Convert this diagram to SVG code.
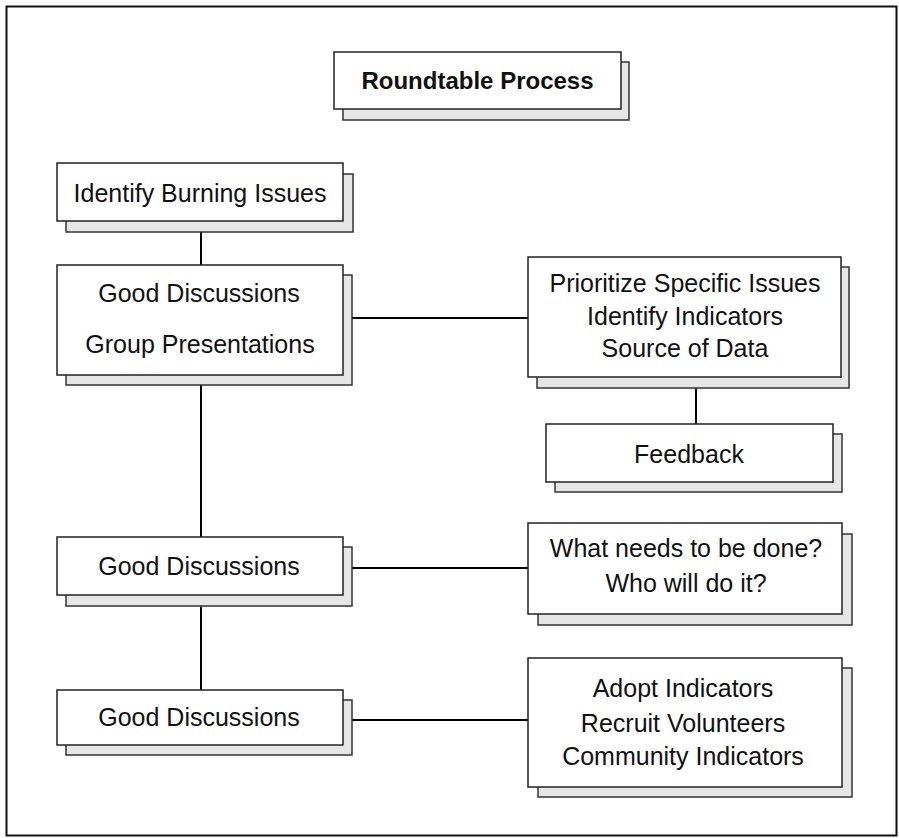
<svg xmlns="http://www.w3.org/2000/svg" width="899" height="838" viewBox="0 0 899 838">
<style>
.frame{fill:#fff;stroke:#111;stroke-width:2}
.sh{fill:#e6e6e6;stroke:#333;stroke-width:1.5}
.bx{fill:#fff;stroke:#222;stroke-width:1.5}
.t{font-family:"Liberation Sans",Arial,sans-serif;font-size:25px;fill:#111;text-anchor:middle}
.tb{font-family:"Liberation Sans",Arial,sans-serif;font-size:24px;font-weight:bold;fill:#111;text-anchor:middle}
.c{stroke:#000;stroke-width:2;fill:none}
</style>
<rect class="frame" x="6.5" y="6.5" width="890" height="829"/>
<g id="connectors">
<line class="c" x1="201" y1="232" x2="201" y2="265"/>
<line class="c" x1="201" y1="385" x2="201" y2="537"/>
<line class="c" x1="201" y1="606" x2="201" y2="691"/>
<line class="c" x1="352" y1="318" x2="528" y2="318"/>
<line class="c" x1="696" y1="388" x2="696" y2="424"/>
<line class="c" x1="352" y1="568" x2="528" y2="568"/>
<line class="c" x1="352" y1="720" x2="528" y2="720"/>
</g>
<g id="title">
<rect class="sh" x="343" y="62" width="286" height="58"/>
<rect class="bx" x="334" y="52" width="287" height="57"/>
<text class="tb" x="477.5" y="89">Roundtable Process</text>
</g>
<g id="identify">
<rect class="sh" x="66" y="174" width="287" height="58"/>
<rect class="bx" x="57" y="163" width="286" height="58"/>
<text class="t" x="200" y="202">Identify Burning Issues</text>
</g>
<g id="good1">
<rect class="sh" x="66" y="275" width="286" height="110"/>
<rect class="bx" x="57" y="265" width="286" height="110"/>
<text class="t" x="199" y="302">Good Discussions</text>
<text class="t" x="200" y="353">Group Presentations</text>
</g>
<g id="prioritize">
<rect class="sh" x="537" y="267" width="312" height="121"/>
<rect class="bx" x="528" y="257" width="313" height="120"/>
<text class="t" x="685" y="292">Prioritize Specific Issues</text>
<text class="t" x="685" y="325">Identify Indicators</text>
<text class="t" x="685" y="357">Source of Data</text>
</g>
<g id="feedback">
<rect class="sh" x="555" y="434" width="287" height="58"/>
<rect class="bx" x="546" y="424" width="287" height="58"/>
<text class="t" x="689" y="463">Feedback</text>
</g>
<g id="good2">
<rect class="sh" x="66" y="547" width="286" height="59"/>
<rect class="bx" x="57" y="537" width="286" height="58"/>
<text class="t" x="199" y="575">Good Discussions</text>
</g>
<g id="whatneeds">
<rect class="sh" x="538" y="534" width="314" height="91"/>
<rect class="bx" x="528" y="523" width="314" height="91"/>
<text class="t" x="686" y="557">What needs to be done?</text>
<text class="t" x="686" y="592">Who will do it?</text>
</g>
<g id="good3">
<rect class="sh" x="66" y="700" width="286" height="55"/>
<rect class="bx" x="57" y="690" width="286" height="55"/>
<text class="t" x="199" y="726">Good Discussions</text>
</g>
<g id="adopt">
<rect class="sh" x="538" y="668" width="314" height="129"/>
<rect class="bx" x="528" y="658" width="314" height="129"/>
<text class="t" x="683" y="697">Adopt Indicators</text>
<text class="t" x="683" y="732">Recruit Volunteers</text>
<text class="t" x="683" y="765">Community Indicators</text>
</g>
</svg>
